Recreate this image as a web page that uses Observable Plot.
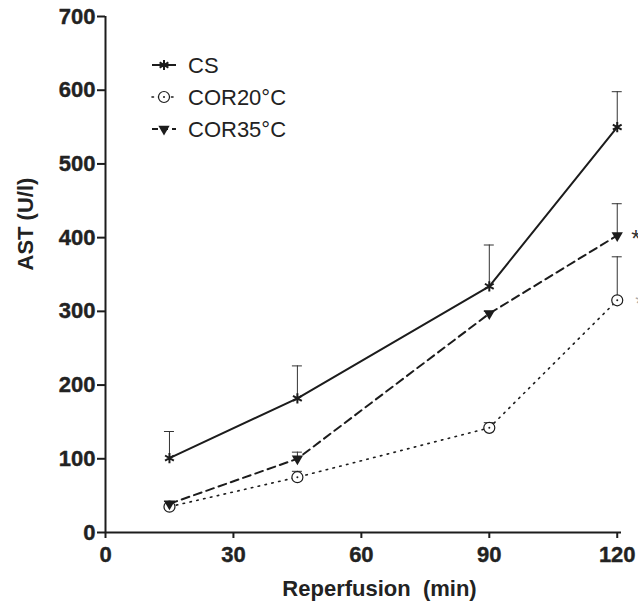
<!DOCTYPE html>
<html>
<head>
<meta charset="utf-8">
<script src="https://cdn.jsdelivr.net/npm/d3@7"></script>
<script src="https://cdn.jsdelivr.net/npm/@observablehq/plot@0.6"></script>
<style>
  html, body { margin: 0; padding: 0; background: #fff; }
</style>
</head>
<body>
<div id="chart"></div>
<script>
const times = [15, 45, 90, 120];
const seriesNames = ["CS", "COR20°C", "COR35°C"];
const csMean = [101, 182, 334, 550];
const csErr = [36, 44, 56, 48];
const cor20Mean = [35, 75, 142, 315];
const cor20Err = [2, 8, 7, 59];
const cor35Mean = [39, 100, 297, 403];
const cor35Err = [3, 9, 3, 43];
const xTicks = [0, 30, 60, 90, 120];
const yTicks = [0, 100, 200, 300, 400, 500, 600, 700];
const xLabel = "Reperfusion  (min)";
const yLabel = "AST (U/l)";
const sigLabels = ["*", "*"];

const build = (name, means, errs) => times.map((t, i) => ({s: name, t, v: means[i], e: errs[i]}));
const cs = build(seriesNames[0], csMean, csErr);
const c20 = build(seriesNames[1], cor20Mean, cor20Err);
const c35 = build(seriesNames[2], cor35Mean, cor35Err);
const all = [...cs, ...c20, ...c35];
const lastOf = (arr) => arr[arr.length - 1];
const sig35 = [{...lastOf(c35), label: sigLabels[0]}];
const sig20 = [{...lastOf(c20), label: sigLabels[1]}];

const ink = "#1c1c1c";
const font = "'Liberation Sans', Arial, sans-serif";

function legend(index, scales, values, dimensions) {
  const g = d3.create("svg:g").attr("text-anchor", "start").attr("font-family", font);
  const rows = [
    {name: seriesNames[0], dash: null, sym: "asterisk"},
    {name: seriesNames[1], dash: "1.5,5", sym: "circle"},
    {name: seriesNames[2], dash: "6,4", sym: "triangle"}
  ];
  const x0 = dimensions.marginLeft + 47, x1 = x0 + 24, xm = x0 + 12, xt = x0 + 36;
  rows.forEach((r, i) => {
    const y = dimensions.marginTop + 49 + i * 32;
    g.append("line").attr("x1", x0).attr("x2", x1).attr("y1", y).attr("y2", y)
      .attr("stroke", ink).attr("stroke-width", r.sym === "circle" ? 1.6 : 2)
      .attr("stroke-linecap", r.sym === "circle" ? "round" : "butt")
      .attr("stroke-dasharray", r.dash);
    if (r.sym === "asterisk") {
      g.append("path").attr("transform", `translate(${xm},${y})`)
        .attr("d", d3.symbol(d3.symbolAsterisk, 72)())
        .attr("stroke", ink).attr("stroke-width", 2).attr("fill", "none");
    } else if (r.sym === "circle") {
      g.append("circle").attr("cx", xm).attr("cy", y).attr("r", 5.5)
        .attr("fill", "#fff").attr("stroke", ink).attr("stroke-width", 1.2);
      g.append("circle").attr("cx", xm).attr("cy", y).attr("r", 1).attr("fill", ink);
    } else {
      g.append("path").attr("transform", `translate(${xm},${y}) rotate(180)`)
        .attr("d", d3.symbol(d3.symbolTriangle, 55)())
        .attr("fill", ink);
    }
    g.append("text").attr("x", xt).attr("y", y).attr("dy", "0.35em")
      .attr("font-size", 22).attr("font-weight", "normal").attr("fill", "#222")
      .text(r.name);
  });
  return g.node();
}

const chart = Plot.plot({
  width: 638,
  height: 606,
  marginLeft: 105,
  marginRight: 17,
  marginTop: 16,
  marginBottom: 74,
  style: {
    fontFamily: font,
    color: "#222",
    background: "#fff",
    overflow: "visible"
  },
  x: {domain: [0, 121], axis: null},
  y: {domain: [0, 700], axis: null},
  marks: [
    // axis ticks
    Plot.ruleX(xTicks, {x: d => d, y1: 0, y2: 0, insetBottom: -6, stroke: ink, strokeWidth: 2}),
    Plot.ruleY(yTicks, {y: d => d, x1: 0, x2: 0, insetLeft: -8, stroke: ink, strokeWidth: 2}),
    // axis tick labels
    Plot.text(xTicks, {x: d => d, text: d => String(d), frameAnchor: "bottom", lineAnchor: "top", dy: 14,
      fontSize: 22, fontWeight: "bold", fill: "#222", stroke: "#222", strokeWidth: 0.4, fontFamily: font}),
    Plot.text(yTicks, {y: d => d, text: d => String(d), frameAnchor: "left", textAnchor: "end", dx: -10,
      fontSize: 22, fontWeight: "bold", fill: "#222", stroke: "#222", strokeWidth: 0.4, fontFamily: font}),
    // axis lines
    Plot.ruleY([0], {stroke: ink, strokeWidth: 2}),
    Plot.ruleX([0], {stroke: ink, strokeWidth: 2}),
    // error bars (upper only)
    Plot.ruleX(all, {x: "t", y1: "v", y2: d => d.v + d.e, stroke: "#333", strokeWidth: 1}),
    Plot.ruleY(all, {y: d => d.v + d.e, x1: "t", x2: "t", insetLeft: -5, insetRight: -5, stroke: "#333", strokeWidth: 1}),
    // lines
    Plot.line(cs, {x: "t", y: "v", stroke: ink, strokeWidth: 2}),
    Plot.line(c35, {x: "t", y: "v", stroke: ink, strokeWidth: 2, strokeDasharray: "8,5"}),
    Plot.line(c20, {x: "t", y: "v", stroke: ink, strokeWidth: 1.6, strokeDasharray: "1.5,5.5", strokeLinecap: "round"}),
    // markers
    Plot.dot(cs, {x: "t", y: "v", symbol: "asterisk", r: 4.8, stroke: ink, strokeWidth: 2}),
    Plot.dot(c20, {x: "t", y: "v", symbol: "circle", r: 5.5, fill: "#fff", stroke: ink, strokeWidth: 1.2}),
    Plot.dot(c20, {x: "t", y: "v", r: 1, fill: ink}),
    Plot.dot(c35, {x: "t", y: "v", symbol: "triangle", r: 4.2, fill: ink, rotate: 180}),
    // significance marks
    Plot.text(sig35, {x: "t", y: "v", text: "label", dx: 14, dy: 4, textAnchor: "start", fontSize: 24, fontWeight: "normal", fill: "#333", fontFamily: font}),
    Plot.text(sig20, {x: "t", y: "v", text: "label", dx: 18, dy: 4, textAnchor: "start", fontSize: 24, fontWeight: "normal", fill: "#aaa", fontFamily: font}),
    // axis titles
    Plot.text([yLabel], {frameAnchor: "left", rotate: -90, dx: -80, dy: -4, fontSize: 22, fontWeight: "bold", fill: "#222", fontFamily: font}),
    Plot.text([xLabel], {frameAnchor: "bottom", dx: 16, dy: 63, fontSize: 22, fontWeight: "bold", fill: "#222", fontFamily: font}),
    legend
  ]
});
document.getElementById("chart").appendChild(chart);
</script>
</body>
</html>
